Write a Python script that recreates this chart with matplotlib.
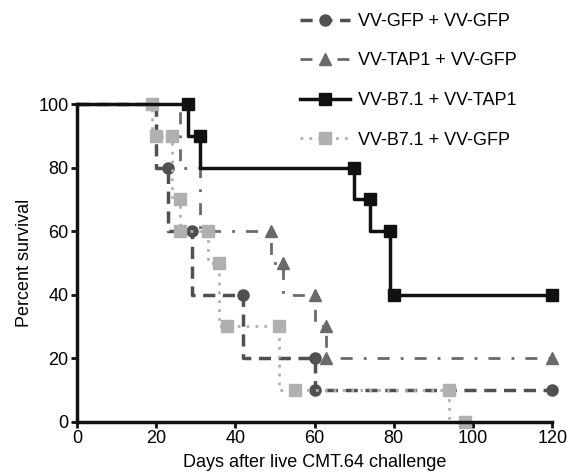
import matplotlib
matplotlib.use("Agg")
import matplotlib.pyplot as plt

plt.rcParams["font.family"] = ["Liberation Sans", "DejaVu Sans"]

# survival curves (day, percent survival)
gfp_days = [0, 20, 23, 29, 42, 60, 60, 120]
gfp_surv = [100, 100, 80, 60, 40, 20, 10, 10]

tap1_days = [0, 26, 31, 49, 52, 60, 63, 63, 120]
tap1_surv = [100, 100, 80, 60, 50, 40, 30, 20, 20]

b71_tap1_days = [0, 28, 31, 70, 74, 79, 80, 120]
b71_tap1_surv = [100, 100, 90, 80, 70, 60, 40, 40]

b71_gfp_days = [0, 19, 20, 24, 26, 26, 33, 36, 38, 51, 55, 94, 98]
b71_gfp_surv = [100, 100, 90, 90, 70, 60, 60, 50, 30, 30, 10, 10, 0]

labels = ["VV-GFP + VV-GFP", "VV-TAP1 + VV-GFP",
          "VV-B7.1 + VV-TAP1", "VV-B7.1 + VV-GFP"]

fs = 13

fig = plt.figure(figsize=(5.74, 4.75), dpi=100)
ax = fig.add_axes([0.134, 0.112, 0.828, 0.669])

h1, = ax.plot(gfp_days, gfp_surv, drawstyle="steps-pre", color="#505050",
              lw=2.5, ls=(0, (3.5, 2.2)), marker="o", ms=8,
              markevery=list(range(2, len(gfp_days))), clip_on=False,
              zorder=2.2)
h2, = ax.plot(tap1_days, tap1_surv, drawstyle="steps-pre", color="#6a6a6a",
              lw=2, ls=(0, (4.3, 4, 1, 4)), marker="^", ms=8,
              markevery=list(range(3, len(tap1_days))), clip_on=False,
              zorder=2.1)
h3, = ax.plot(b71_tap1_days, b71_tap1_surv, drawstyle="steps-pre",
              color="#111111", lw=2.5, ls="-", marker="s", ms=8,
              markevery=list(range(1, len(b71_tap1_days))), clip_on=False,
              zorder=2.5)
h4, = ax.plot(b71_gfp_days, b71_gfp_surv, drawstyle="steps-pre",
              color="#b0b0b0", lw=2, ls=(0, (1, 2.2)), marker="s", ms=9,
              markevery=list(range(1, len(b71_gfp_days))), clip_on=False,
              zorder=2.3)

ax.set_xlim(0, 120)
ax.set_ylim(0, 100)
ax.set_xticks(range(0, 121, 20))
ax.set_yticks(range(0, 101, 20))
for s in ["top", "right"]:
    ax.spines[s].set_visible(False)
for s in ["left", "bottom"]:
    ax.spines[s].set_linewidth(2.5)
    ax.spines[s].set_color("#111111")
ax.tick_params(direction="out", length=4, width=2, color="#111111",
               labelsize=fs, pad=2)
ax.set_xlabel("Days after live CMT.64 challenge", fontsize=fs, labelpad=5)
ax.set_ylabel("Percent survival", fontsize=fs, labelpad=4)

fig.legend([h1, h2, h3, h4], labels, loc="upper left",
           bbox_to_anchor=(0.494, 1.007), frameon=False, fontsize=fs,
           handlelength=2.8, labelspacing=1.25, handletextpad=0.45)

fig.savefig("out.png", dpi=100)
